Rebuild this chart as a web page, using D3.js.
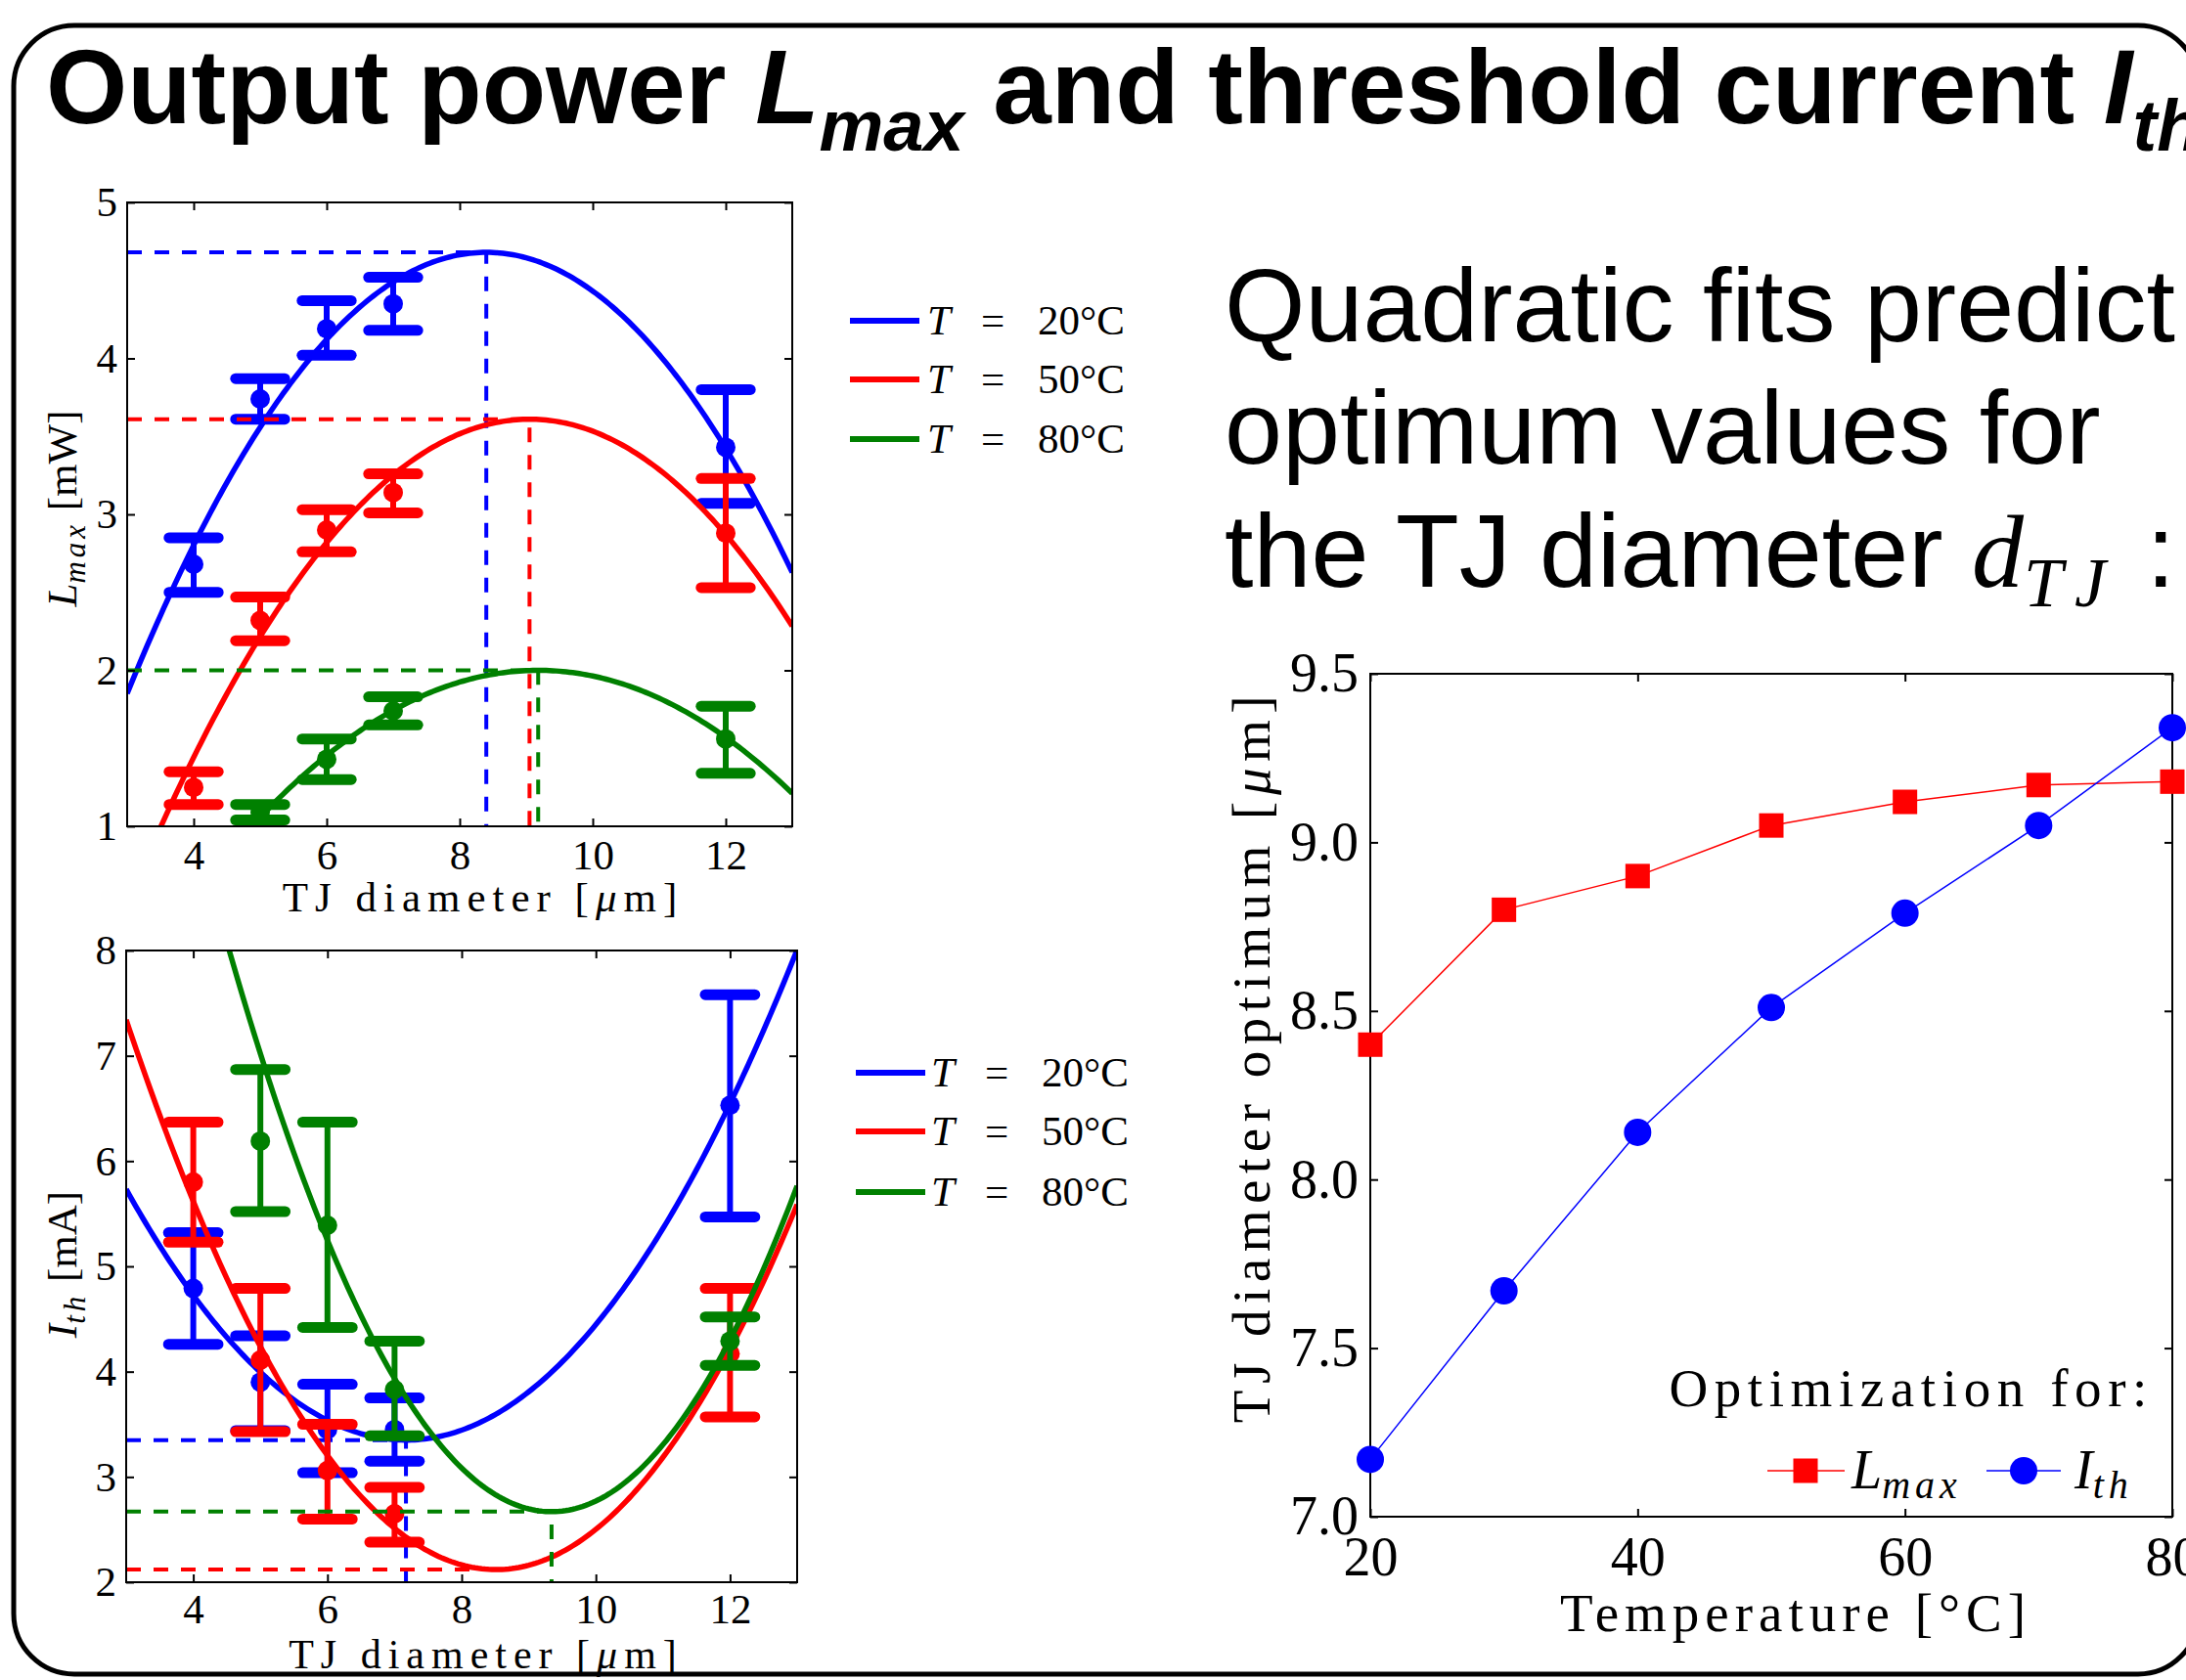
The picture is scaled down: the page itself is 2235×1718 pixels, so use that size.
<!DOCTYPE html>
<html>
<head>
<meta charset="utf-8">
<script src="https://cdn.jsdelivr.net/npm/d3@7"></script>
<style>
  html, body { margin: 0; padding: 0; background: #fff; }
  svg { display: block; }
</style>
</head>
<body>
<svg id="slide" width="2235" height="1718"></svg>
<script>
// ---- values ----

// left panels: TJ diameters of the measured devices [um]
const diameters = [4, 5, 6, 7, 12];
const diamTicks = [4, 6, 8, 10, 12];
const tempLabels = ["20", "50", "80"];
const tempColors = ["#0000ff", "#ff0000", "#008000"];

// output power Lmax [mW]: mean, lower and upper end of the error bar
const lmax20 = [2.68, 3.74, 4.19, 4.35, 3.43];
const lmax20Lo = [2.50, 3.61, 4.02, 4.18, 3.07];
const lmax20Hi = [2.85, 3.87, 4.37, 4.52, 3.80];
const lmax50 = [1.25, 2.32, 2.90, 3.14, 2.88];
const lmax50Lo = [1.14, 2.19, 2.76, 3.01, 2.53];
const lmax50Hi = [1.35, 2.47, 3.03, 3.26, 3.23];
const lmax80 = [null, 1.09, 1.43, 1.74, 1.56];
const lmax80Lo = [null, 1.04, 1.30, 1.65, 1.34];
const lmax80Hi = [null, 1.14, 1.56, 1.83, 1.77];
const lmaxTicks = [1, 2, 3, 4, 5];

// quadratic fits of Lmax: vertex (optimum diameter, max power) and curvature
const lmaxOptD = [8.40, 9.05, 9.18];
const lmaxOptV = [4.68, 3.61, 2.00];
const lmaxCurv = [-0.097, -0.085, -0.054];

// threshold current Ith [mA]
const ith20 = [4.79, 3.90, 3.45, 3.45, 6.53];
const ith20Lo = [4.26, 3.44, 3.04, 3.15, 5.47];
const ith20Hi = [5.32, 4.34, 3.88, 3.75, 7.58];
const ith50 = [5.80, 4.11, 3.06, 2.65, 4.17];
const ith50Lo = [5.23, 3.43, 2.60, 2.38, 3.57];
const ith50Hi = [6.37, 4.79, 3.50, 2.90, 4.79];
const ith80 = [null, 6.19, 5.39, 3.83, 4.29];
const ith80Lo = [null, 5.52, 4.42, 3.39, 4.06];
const ith80Hi = [null, 6.87, 6.37, 4.29, 4.52];
const ithTicks = [2, 3, 4, 5, 6, 7, 8];

// quadratic fits of Ith: vertex (optimum diameter, min current) and curvature
const ithOptD = [7.17, 8.51, 9.34];
const ithOptV = [3.35, 2.12, 2.67];
const ithCurv = [0.137, 0.172, 0.231];

// right panel: optimum TJ diameter vs temperature
const temperatures = [20, 30, 40, 50, 60, 70, 80];
const optDiamLmax = [8.40, 8.80, 8.90, 9.05, 9.12, 9.17, 9.18];
const optDiamIth = [7.17, 7.67, 8.14, 8.51, 8.79, 9.05, 9.34];
const tempTicks = [20, 40, 60, 80];
const optTicks = [7.0, 7.5, 8.0, 8.5, 9.0, 9.5];

// ---- drawing ----
const serif = "'Liberation Serif', 'Times New Roman', serif";
const sans = "'Liberation Sans', Arial, Helvetica, sans-serif";

const svg = d3.select("#slide");
const defs = svg.append("defs");

// slide frame, its right side runs off the picture
svg.append("rect")
  .attr("x", 14).attr("y", 26)
  .attr("width", 2234).attr("height", 1686)
  .attr("rx", 62)
  .attr("fill", "none").attr("stroke", "#000").attr("stroke-width", 5);

// title
const title = svg.append("text")
  .attr("x", 47).attr("y", 126)
  .attr("font-family", sans).attr("font-weight", "bold").attr("font-size", 107);
title.append("tspan").text("Output power ");
title.append("tspan").attr("font-style", "italic").text("L");
title.append("tspan").attr("font-style", "italic").attr("font-size", 74).attr("dy", 28).text("max");
title.append("tspan").attr("dy", -28).text(" and threshold current ");
title.append("tspan").attr("font-style", "italic").text("I");
title.append("tspan").attr("font-style", "italic").attr("font-size", 74).attr("dy", 28).text("th");

// text block on the right
const blurb = svg.append("text")
  .attr("font-family", sans).attr("font-size", 106);
blurb.append("tspan").attr("x", 1252).attr("y", 349).text("Quadratic fits predict");
blurb.append("tspan").attr("x", 1252).attr("y", 474).text("optimum values for");
blurb.append("tspan").attr("x", 1252).attr("y", 600).text("the TJ diameter ");
blurb.append("tspan").attr("font-family", serif).attr("font-style", "italic").text("d");
blurb.append("tspan").attr("font-family", serif).attr("font-style", "italic")
  .attr("font-size", 72).attr("letter-spacing", 12).attr("dy", 20).text("TJ");
blurb.append("tspan").attr("dy", -20).text(" :");

// axis title with an italic mu inside the brackets
function unitLabel(sel, before, after) {
  sel.append("tspan").text(before);
  sel.append("tspan").attr("font-style", "italic").text("μ");
  sel.append("tspan").text(after);
}

// box + inward ticks on all four sides
function drawFrame(g, x, y, xTicks, yTicks, fmtY, fontSize, xPad, yPad) {
  const [x0, x1] = x.range();
  const [y0, y1] = y.range();
  const styleAxis = a => {
    a.select(".domain").remove();
    a.attr("font-family", serif).attr("font-size", fontSize);
    a.selectAll(".tick line").attr("stroke-width", 2);
  };
  g.append("g").attr("transform", `translate(0,${y0})`)
    .call(d3.axisBottom(x).tickValues(xTicks).tickSizeInner(-8).tickSizeOuter(0).tickPadding(xPad))
    .call(styleAxis);
  g.append("g").attr("transform", `translate(0,${y1})`)
    .call(d3.axisTop(x).tickValues(xTicks).tickSizeInner(-8).tickSizeOuter(0).tickFormat(""))
    .call(styleAxis);
  g.append("g").attr("transform", `translate(${x0},0)`)
    .call(d3.axisLeft(y).tickValues(yTicks).tickSizeInner(-8).tickSizeOuter(0).tickPadding(yPad).tickFormat(fmtY))
    .call(styleAxis);
  g.append("g").attr("transform", `translate(${x1},0)`)
    .call(d3.axisRight(y).tickValues(yTicks).tickSizeInner(-8).tickSizeOuter(0).tickFormat(""))
    .call(styleAxis);
  g.append("rect")
    .attr("x", x0).attr("y", y1).attr("width", x1 - x0).attr("height", y0 - y1)
    .attr("fill", "none").attr("stroke", "#000").attr("stroke-width", 2);
}

// one of the two left panels: error bars, quadratic fit, dashed optimum guides
function drawErrorPanel(p) {
  const { x, y, means, lows, highs, optD, optV, curv, clipId } = p;
  const [x0, x1] = x.range();
  const [y0, y1] = y.range();
  const g = svg.append("g");

  defs.append("clipPath").attr("id", clipId)
    .append("rect").attr("x", x0).attr("y", y1).attr("width", x1 - x0).attr("height", y0 - y1);
  const plot = g.append("g").attr("clip-path", `url(#${clipId})`);
  const capHalf = 0.37; // half width of an error bar cap, in um

  means.forEach((vals, s) => {
    const col = tempColors[s];
    const pts = diameters
      .map((d, i) => ({ d: d, m: vals[i], lo: lows[s][i], hi: highs[s][i] }))
      .filter(q => q.m != null);

    const bars = plot.append("g").attr("stroke", col).attr("fill", col);
    bars.selectAll("line.stem").data(pts).join("line")
      .attr("x1", q => x(q.d)).attr("x2", q => x(q.d))
      .attr("y1", q => y(q.lo)).attr("y2", q => y(q.hi))
      .attr("stroke-width", 6);
    ["lo", "hi"].forEach(k => {
      bars.selectAll("line.cap" + k).data(pts).join("line")
        .attr("x1", q => x(q.d - capHalf)).attr("x2", q => x(q.d + capHalf))
        .attr("y1", q => y(q[k])).attr("y2", q => y(q[k]))
        .attr("stroke-width", 11).attr("stroke-linecap", "round");
    });
    bars.selectAll("circle").data(pts).join("circle")
      .attr("cx", q => x(q.d)).attr("cy", q => y(q.m)).attr("r", 10)
      .attr("stroke", "none");

    // fitted parabola through its vertex
    const fitPts = d3.range(3, 13.001, 0.05).map(d => [d, optV[s] + curv[s] * (d - optD[s]) ** 2]);
    plot.append("path").datum(fitPts)
      .attr("d", d3.line().x(d => x(d[0])).y(d => y(d[1])))
      .attr("fill", "none").attr("stroke", col).attr("stroke-width", 5.5);

    // dashed guides to the optimum
    plot.append("path")
      .attr("d", `M${x0},${y(optV[s])}H${x(optD[s])}V${y0}`)
      .attr("fill", "none").attr("stroke", col)
      .attr("stroke-width", 4).attr("stroke-dasharray", "15,13");
  });
}

// legend "T = xx°C" beside a left panel
function drawTempLegend(rows, lineX0, lineX1, textX) {
  tempLabels.forEach((t, i) => {
    svg.append("line")
      .attr("x1", lineX0).attr("x2", lineX1).attr("y1", rows[i]).attr("y2", rows[i])
      .attr("stroke", tempColors[i]).attr("stroke-width", 6);
    const tx = svg.append("text")
      .attr("y", rows[i] + 14)
      .attr("font-family", serif).attr("font-size", 43);
    tx.append("tspan").attr("x", textX).attr("font-style", "italic").text("T");
    tx.append("tspan").attr("x", textX + 55).text("=");
    tx.append("tspan").attr("x", textX + 113).text(t + "°C");
  });
}

// rotated y label with a subscript
function yLabel(cx, cy, main, sub, unit, size) {
  const t = svg.append("text")
    .attr("transform", `translate(${cx},${cy}) rotate(-90)`)
    .attr("text-anchor", "middle")
    .attr("font-family", serif).attr("font-size", size);
  t.append("tspan").attr("font-style", "italic").text(main);
  t.append("tspan").attr("font-style", "italic").attr("font-size", size * 0.72)
    .attr("letter-spacing", 4).attr("dy", 9).text(sub);
  t.append("tspan").attr("dy", -9).text(" [" + unit + "]");
}

// ---- top left: Lmax ----
const xTop = d3.scaleLinear().domain([3, 13]).range([130, 810]);
const yTop = d3.scaleLinear().domain([1, 5]).range([845, 207]);
drawErrorPanel({
  x: xTop, y: yTop,
  means: [lmax20, lmax50, lmax80],
  lows: [lmax20Lo, lmax50Lo, lmax80Lo],
  highs: [lmax20Hi, lmax50Hi, lmax80Hi],
  optD: lmaxOptD, optV: lmaxOptV, curv: lmaxCurv,
  clipId: "clipTop"
});
drawFrame(svg.append("g"), xTop, yTop, diamTicks, lmaxTicks, d3.format("d"), 43, 13, 10);
svg.append("text")
  .attr("x", 494).attr("y", 932).attr("text-anchor", "middle")
  .attr("font-family", serif).attr("font-size", 43).attr("letter-spacing", 7)
  .call(unitLabel, "TJ diameter [", "m]");
yLabel(78, 520, "L", "max", "mW", 43);
drawTempLegend([328, 388, 449], 869, 940, 948);

// ---- bottom left: Ith ----
const xBot = d3.scaleLinear().domain([3, 13]).range([129, 815]);
const yBot = d3.scaleLinear().domain([2, 8]).range([1618, 972]);
drawErrorPanel({
  x: xBot, y: yBot,
  means: [ith20, ith50, ith80],
  lows: [ith20Lo, ith50Lo, ith80Lo],
  highs: [ith20Hi, ith50Hi, ith80Hi],
  optD: ithOptD, optV: ithOptV, curv: ithCurv,
  clipId: "clipBot"
});
drawFrame(svg.append("g"), xBot, yBot, diamTicks, ithTicks, d3.format("d"), 43, 11, 10);
svg.append("text")
  .attr("x", 497).attr("y", 1706).attr("text-anchor", "middle")
  .attr("font-family", serif).attr("font-size", 42).attr("letter-spacing", 7)
  .call(unitLabel, "TJ diameter [", "m]");
yLabel(78, 1293, "I", "th", "mA", 43);
drawTempLegend([1097, 1157, 1219], 875, 946, 952);

// ---- right: optimum diameter vs temperature ----
const xT = d3.scaleLinear().domain([20, 80]).range([1401, 2221]);
const yD = d3.scaleLinear().domain([7.0, 9.5]).range([1551, 689]);
const gR = svg.append("g");
drawFrame(gR, xT, yD, tempTicks, optTicks, d3.format(".1f"), 56, 20, 12);

const lineT = d3.line().x((d, i) => xT(temperatures[i])).y(d => yD(d));
gR.append("path").datum(optDiamLmax).attr("d", lineT)
  .attr("fill", "none").attr("stroke", "#ff0000").attr("stroke-width", 1.5);
gR.append("path").datum(optDiamIth).attr("d", lineT)
  .attr("fill", "none").attr("stroke", "#0000ff").attr("stroke-width", 1.5);
gR.selectAll("rect.sq").data(optDiamLmax).join("rect")
  .attr("x", (d, i) => xT(temperatures[i]) - 12.5).attr("y", d => yD(d) - 12.5)
  .attr("width", 25).attr("height", 25).attr("fill", "#ff0000");
gR.selectAll("circle.dot").data(optDiamIth).join("circle")
  .attr("cx", (d, i) => xT(temperatures[i])).attr("cy", d => yD(d)).attr("r", 14)
  .attr("fill", "#0000ff");

svg.append("text")
  .attr("x", 1836).attr("y", 1668).attr("text-anchor", "middle")
  .attr("font-family", serif).attr("font-size", 55).attr("letter-spacing", 6)
  .text("Temperature [°C]");
svg.append("text")
  .attr("transform", "translate(1298,1080) rotate(-90)").attr("text-anchor", "middle")
  .attr("font-family", serif).attr("font-size", 55).attr("letter-spacing", 6.5)
  .call(unitLabel, "TJ diameter optimum [", "m]");

// legend inside the right panel
svg.append("text")
  .attr("x", 2202).attr("y", 1438).attr("text-anchor", "end")
  .attr("font-family", serif).attr("font-size", 55).attr("letter-spacing", 6.6)
  .text("Optimization for:");
const legY = 1504;
svg.append("line").attr("x1", 1807).attr("x2", 1886).attr("y1", legY).attr("y2", legY)
  .attr("stroke", "#ff0000").attr("stroke-width", 1.5);
svg.append("rect").attr("x", 1846 - 12.5).attr("y", legY - 12.5)
  .attr("width", 25).attr("height", 25).attr("fill", "#ff0000");
svg.append("line").attr("x1", 2031).attr("x2", 2107).attr("y1", legY).attr("y2", legY)
  .attr("stroke", "#0000ff").attr("stroke-width", 1.5);
svg.append("circle").attr("cx", 2069).attr("cy", legY).attr("r", 14).attr("fill", "#0000ff");

[["L", "max", 1893], ["I", "th", 2121]].forEach(([m, s, xx]) => {
  const t = svg.append("text")
    .attr("x", xx).attr("y", legY + 18)
    .attr("font-family", serif).attr("font-size", 56).attr("font-style", "italic");
  t.append("tspan").text(m);
  t.append("tspan").attr("font-size", 40).attr("letter-spacing", 5).attr("dy", 10).text(s);
});
</script>
</body>
</html>
